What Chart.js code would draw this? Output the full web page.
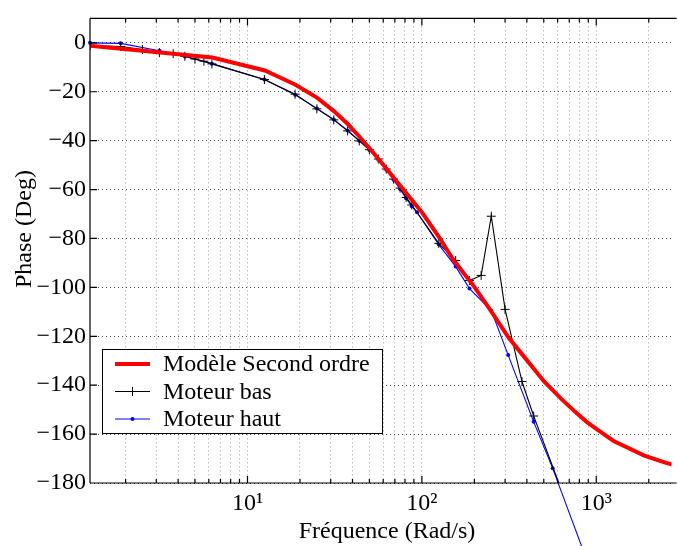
<!DOCTYPE html>
<html>
<head>
<meta charset="utf-8">
<script src="https://cdn.jsdelivr.net/npm/chart.js@4.4.0/dist/chart.umd.min.js"></script>
<style>
body{margin:0;background:#fff}
</style>
</head>
<body>
<canvas id="chart" width="677" height="546"></canvas>
<script>
// valeurs (phase en degres, frequence en rad/s)
const freqModele = [1.25, 6.28, 12.57, 18.85, 25.13, 31.42, 37.7, 43.98, 50.27, 62.83, 75.4, 100.5, 125.7, 150.8, 201, 251, 314, 377, 502, 628, 754, 880, 1005, 1257, 1885, 2513, 3142];
const phaseModele = [-1.2, -6.0, -11.3, -17.1, -22.5, -28.0, -33.3, -38.5, -43.2, -51.6, -58.5, -69.5, -79.5, -88.5, -100, -110, -120.5, -127.5, -138.5, -145.5, -150.8, -155, -158, -162.8, -168.8, -171.8, -173.5];

const freqBas = [1.25, 1.875, 2.5, 3.125, 3.75, 4.375, 5, 5.625, 6.25, 12.5, 18.75, 25, 31.25, 37.5, 43.75, 50, 56.25, 62.5, 68.75, 75, 81.25, 87.5, 125, 156.25, 187.5, 218.75, 250, 300, 375, 437.5, 625];
const phaseBas = [-1.1, -1.5, -2.7, -4.0, -4.4, -5.5, -6.6, -7.5, -8.6, -15.0, -21.0, -27.0, -31.5, -36.0, -40.1, -43.7, -47.5, -51.6, -55.7, -59.4, -63.2, -66.3, -82, -89, -97.2, -95.1, -70.9, -109, -138.5, -152.6, -182];

const freqHaut = [1.25, 1.875, 3.125, 4.375, 6.25, 12.5, 18.75, 25, 31.25, 37.5, 43.75, 50, 56.25, 62.5, 68.75, 75, 81.25, 87.5, 93.75, 125, 156.25, 187.5, 250, 312.5, 437.5, 562.5, 1000];
const phaseHaut = [0, -0.2, -3.2, -5.6, -8.5, -15.0, -21.2, -26.8, -31.3, -35.8, -40.0, -43.8, -47.8, -51.9, -56.0, -59.8, -63.6, -66.8, -69.3, -82.5, -91.5, -100.5, -109.5, -127.7, -155, -174, -222];

const xDecades = [10, 100, 1000];
const xMinor = [2, 3, 4, 5, 6, 7, 8, 9, 20, 30, 40, 50, 60, 70, 80, 90, 200, 300, 400, 500, 600, 700, 800, 900, 2000];
const yTicks = [-180, -160, -140, -120, -100, -80, -60, -40, -20, 0];
const sup = {1: '\u00b9', 2: '\u00b2', 3: '\u00b3'};

function pts(xs, ys) {
    return xs.map((x, i) => ({x: x, y: ys[i]}));
}

const serif = "'Liberation Serif', 'Times New Roman', serif";

const matlabAxes = {
    id: 'matlabAxes',
    afterDraw(chart) {
        const ctx = chart.ctx;
        const a = chart.chartArea;
        const xs = chart.scales.x, ys = chart.scales.y;
        ctx.save();
        ctx.strokeStyle = '#000';
        ctx.lineWidth = 1.2;
        ctx.beginPath();
        ctx.moveTo(a.left, a.top); ctx.lineTo(a.right + 5, a.top);
        ctx.moveTo(a.left, a.top); ctx.lineTo(a.left, a.bottom);
        ctx.moveTo(a.left, a.bottom); ctx.lineTo(a.right + 5, a.bottom);
        // graduations vers l'interieur
        xDecades.concat(xMinor).forEach(v => {
            const px = xs.getPixelForValue(v);
            const len = xDecades.includes(v) ? 7 : 4;
            ctx.moveTo(px, a.bottom); ctx.lineTo(px, a.bottom - len);
            ctx.moveTo(px, a.top); ctx.lineTo(px, a.top + len);
        });
        yTicks.forEach(v => {
            const py = ys.getPixelForValue(v);
            ctx.moveTo(a.left, py); ctx.lineTo(a.left + 7, py);
        });
        ctx.stroke();

        // legende
        const lx = 102, ly = 349, lw = 280, lh = 84;
        ctx.fillStyle = '#fff';
        ctx.fillRect(lx, ly, lw, lh);
        ctx.lineWidth = 1;
        ctx.strokeRect(lx + 0.5, ly + 0.5, lw, lh);
        ctx.font = '24px ' + serif;
        ctx.textBaseline = 'middle';
        chart.data.datasets.forEach((ds, i) => {
            const y = ly + 15 + i * 27.5;
            ctx.strokeStyle = ds.borderColor;
            ctx.lineWidth = ds.borderWidth;
            ctx.beginPath();
            ctx.moveTo(115, y); ctx.lineTo(150, y);
            ctx.stroke();
            if (ds.pointStyle === 'cross') {
                ctx.lineWidth = 1;
                ctx.beginPath();
                ctx.moveTo(132.5, y - 4.5); ctx.lineTo(132.5, y + 4.5);
                ctx.stroke();
            } else if (ds.pointRadius > 0) {
                ctx.fillStyle = ds.borderColor;
                ctx.beginPath();
                ctx.arc(132.5, y, 2, 0, Math.PI * 2);
                ctx.fill();
            }
            ctx.fillStyle = '#000';
            ctx.fillText(ds.label, 163, y + 1);
        });

        // titres des axes
        ctx.fillStyle = '#000';
        ctx.textAlign = 'center';
        ctx.textBaseline = 'alphabetic';
        ctx.fillText('Fréquence (Rad/s)', 387, 538);
        ctx.translate(25, 229);
        ctx.rotate(-Math.PI / 2);
        ctx.textBaseline = 'middle';
        ctx.fillText('Phase (Deg)', 0, 0);
        ctx.restore();
    }
};

new Chart(document.getElementById('chart').getContext('2d'), {
    type: 'line',
    data: {
        datasets: [
            {label: 'Modèle Second ordre', data: pts(freqModele, phaseModele), borderColor: '#ff0000', borderWidth: 4, pointRadius: 0, tension: 0},
            {label: 'Moteur bas', data: pts(freqBas, phaseBas), borderColor: '#000000', borderWidth: 1.1, pointStyle: 'cross', pointRadius: 4.5, pointBorderWidth: 1, pointBorderColor: '#000', tension: 0},
            {label: 'Moteur haut', data: pts(freqHaut, phaseHaut), borderColor: '#0000ff', backgroundColor: '#0000ff', borderWidth: 1.1, pointStyle: 'circle', pointRadius: 2, pointBorderWidth: 0, tension: 0, clip: false}
        ]
    },
    options: {
        responsive: false,
        animation: false,
        layout: {padding: {top: 15, right: 0, left: 0, bottom: 0}},
        plugins: {legend: {display: false}, tooltip: {enabled: false}},
        scales: {
            x: {
                type: 'logarithmic',
                min: 1.25,
                max: 2700,
                afterBuildTicks: s => { s.ticks = xMinor.concat(xDecades).sort((a, b) => a - b).map(v => ({value: v})); },
                afterFit: s => { s.height = 63; },
                ticks: {
                    autoSkip: false,
                    maxRotation: 0,
                    padding: 6,
                    color: '#000',
                    font: {family: serif, size: 24},
                    callback: v => xDecades.includes(v) ? '10' + sup[Math.round(Math.log10(v))] : ''
                },
                grid: {color: 'rgba(0,0,0,0.4)', drawTicks: false},
                border: {display: false, dash: [1, 3]}
            },
            y: {
                type: 'linear',
                min: -180,
                max: 10,
                afterBuildTicks: s => { s.ticks = yTicks.map(v => ({value: v})); },
                afterFit: s => { s.width = 90; },
                ticks: {
                    padding: 4,
                    color: '#000',
                    font: {family: serif, size: 24},
                    callback: v => v < 0 ? '\u2212' + Math.abs(v) : String(v)
                },
                grid: {color: 'rgba(0,0,0,0.75)', drawTicks: false},
                border: {display: false, dash: [1, 3]}
            }
        }
    },
    plugins: [matlabAxes]
});
</script>
</body>
</html>
